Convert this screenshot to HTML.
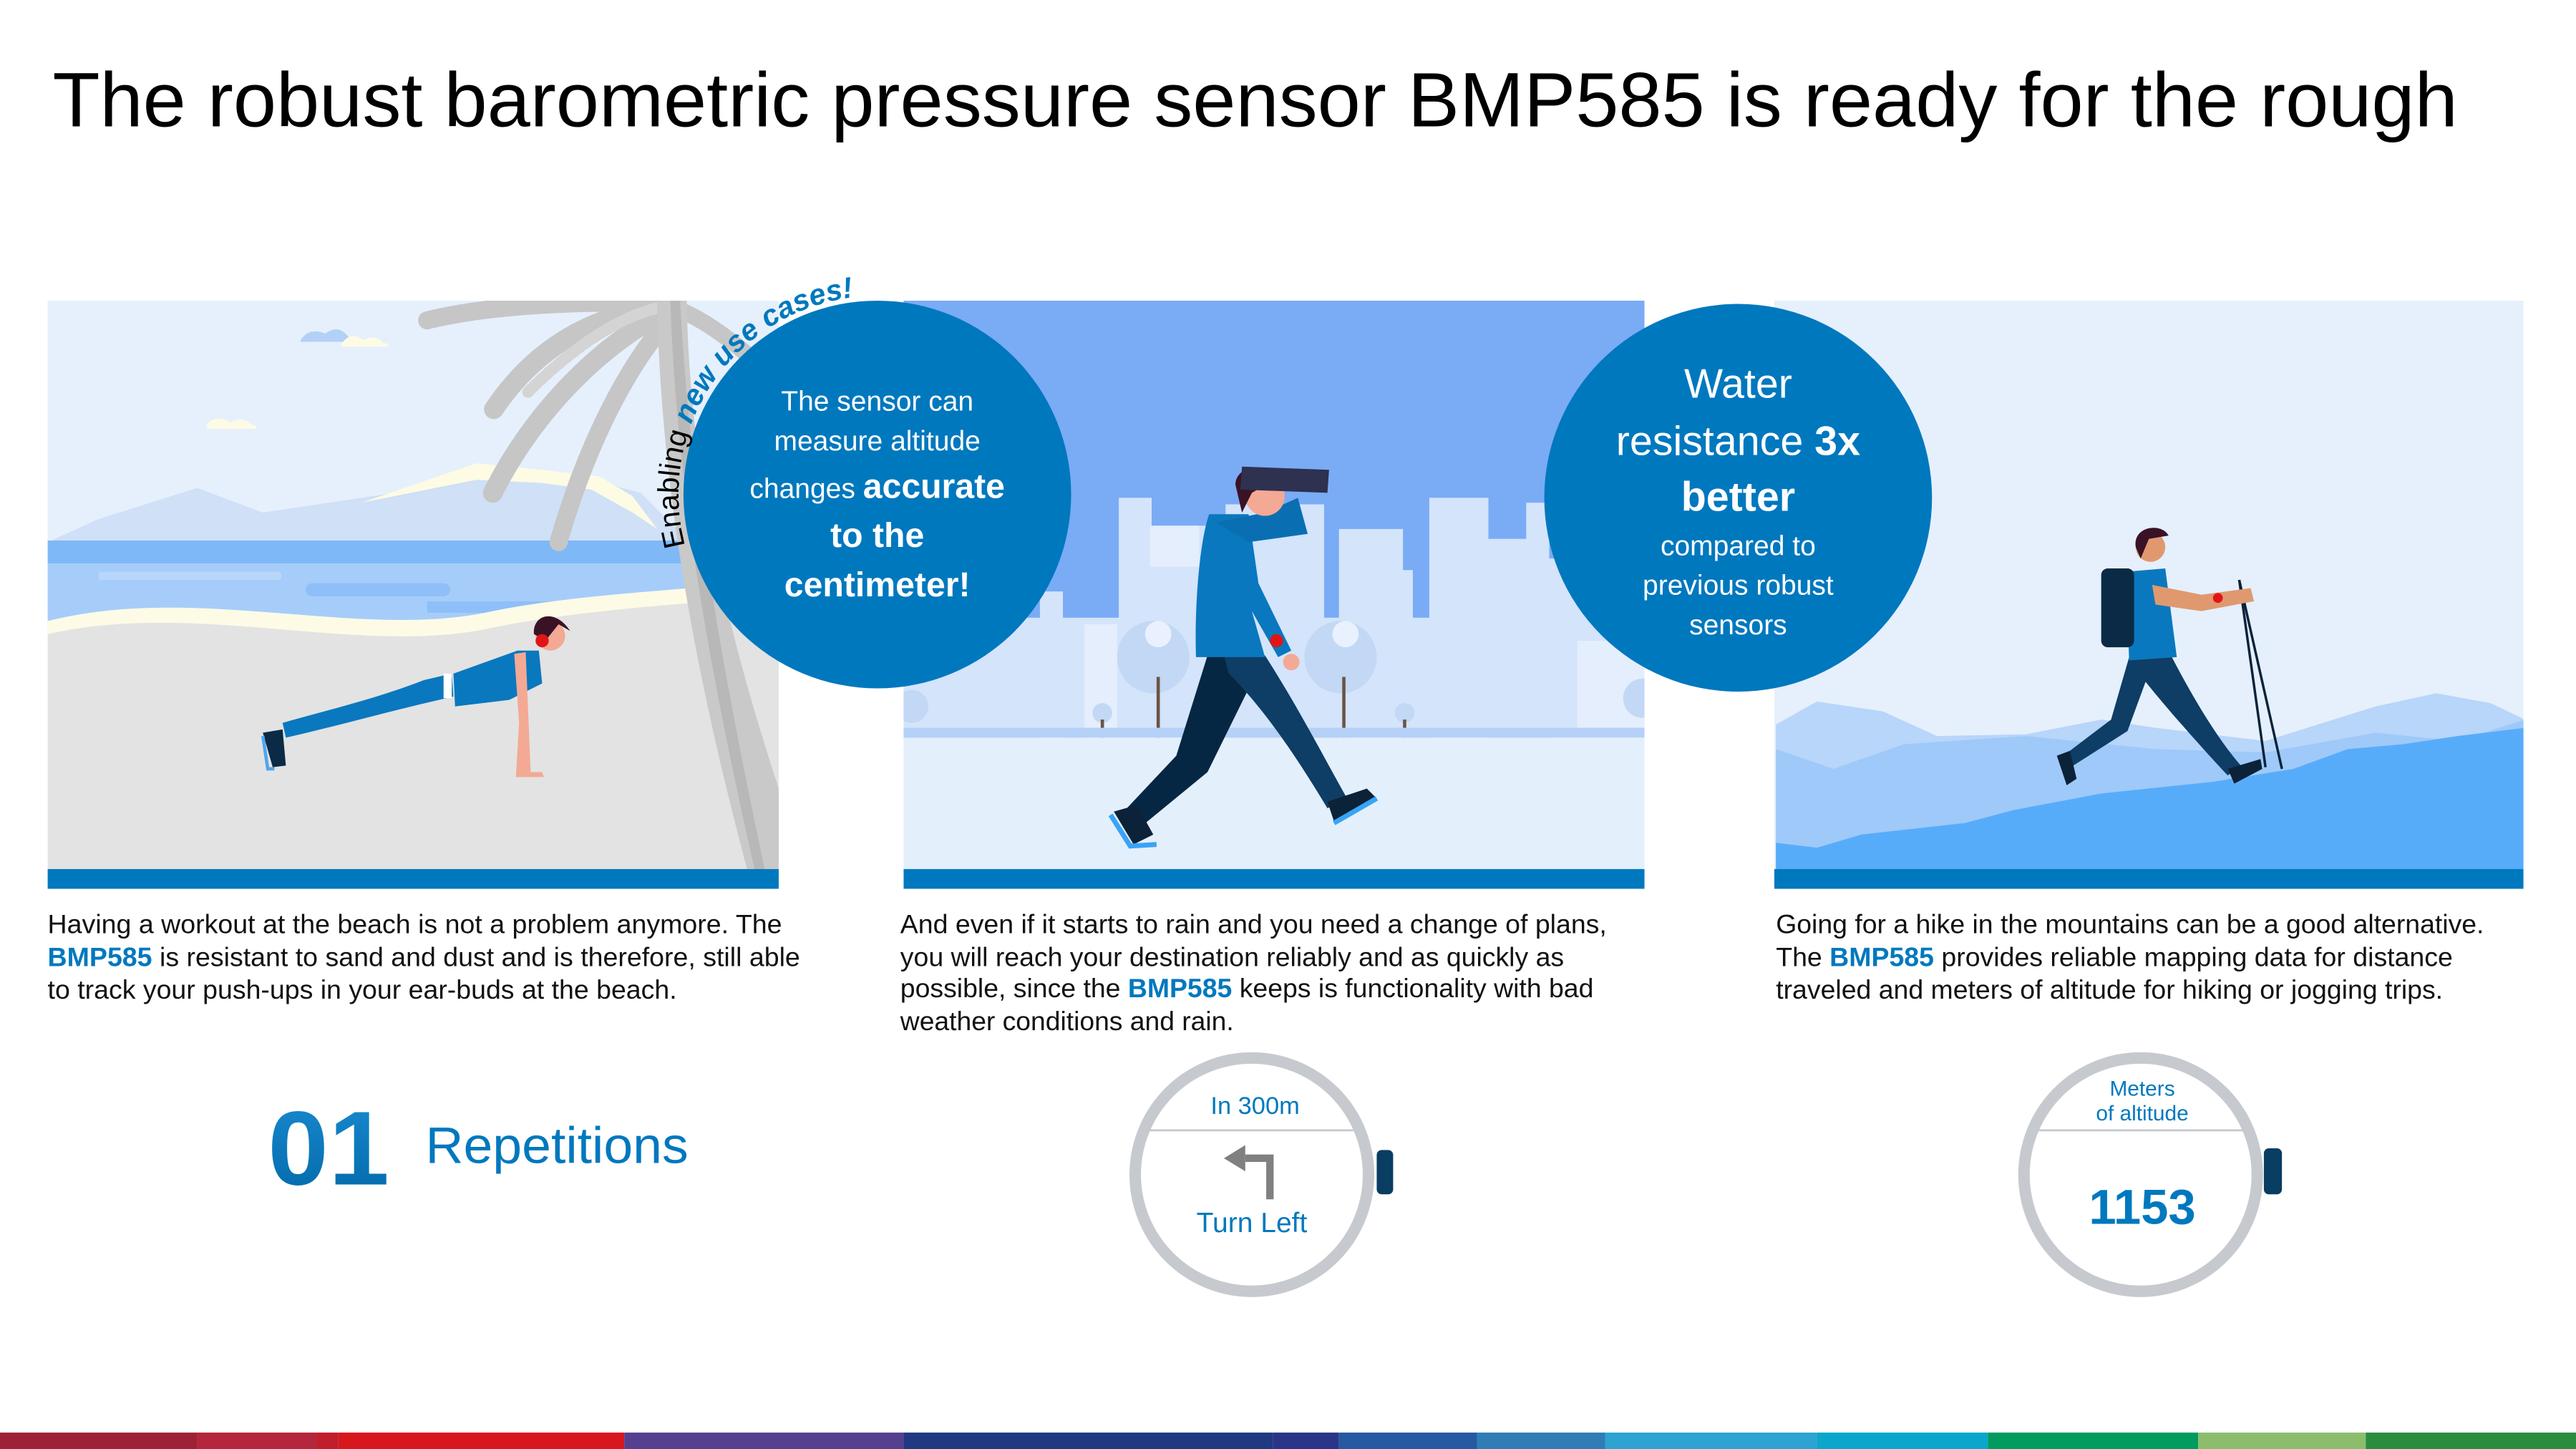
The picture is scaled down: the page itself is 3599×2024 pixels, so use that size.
<!DOCTYPE html>
<html><head><meta charset="utf-8"><style>
html,body{margin:0;padding:0;background:#fff;}
svg{display:block;}
text{font-family:"Liberation Sans",sans-serif;}
</style></head><body>
<svg width="3599" height="2024" viewBox="0 0 1568 882" preserveAspectRatio="none" xmlns="http://www.w3.org/2000/svg">
<defs>
<clipPath id="c1"><rect x="29" y="183" width="445" height="358"/></clipPath>
<clipPath id="c2"><rect x="550" y="183" width="451" height="358"/></clipPath>
<clipPath id="c3"><rect x="1080" y="183" width="456" height="358"/></clipPath>
<linearGradient id="g01" x1="0" y1="0" x2="0" y2="1"><stop offset="0" stop-color="#1a8ad0"/><stop offset="1" stop-color="#0068a8"/></linearGradient>
</defs>
<rect width="1568" height="882" fill="#fff"/>
<text x="32" y="77" font-size="47" fill="#000" textLength="1464" lengthAdjust="spacingAndGlyphs">The robust barometric pressure sensor BMP585 is ready for the rough</text>

<!-- Panel 1 beach -->
<g clip-path="url(#c1)">
<rect x="29" y="183" width="445" height="358" fill="#e6f0fc"/>
<path d="M183,207 q5,-8 15,-4 q8,-6 14,2 q6,0 6,3 h-35z" fill="#b3d1f7"/>
<path d="M208,209 q6,-8 13,-2 q8,-4 12,2 h3 v2 h-28z" fill="#fdfbe3"/>
<path d="M126,258 q6,-6 14,-1 q8,-4 14,2 h2 v2 h-30z" fill="#fdfbe3"/>
<path d="M29,330 L60,316 L120,297 L160,312 L200,306 L240,300 L290,284 L330,288 L360,292 L390,300 L420,330 Z" fill="#cfe0f7"/>
<path d="M220,306 L290,282 L330,286 L365,290 L385,302 L400,322 L385,312 L360,298 L330,294 L290,292 Z" fill="#fdfbe3"/>
<rect x="29" y="329" width="445" height="14" fill="#7fb8f7"/>
<rect x="29" y="343" width="445" height="40" fill="#a6cdf9"/>
<path d="M190,355 h80 a4,4 0 0 1 0,8 h-80 a4,4 0 0 1 0,-8z M260,366 h90 a4,4 0 0 1 0,7 h-90z" fill="#8fbff8"/>
<path d="M60,348 h110 a3,3 0 0 1 0,5 h-110z" fill="#b7d6fa"/>
<path d="M29,378 C120,355 220,390 300,372 C360,360 420,360 474,352 L474,541 L29,541 Z" fill="#fdfbe6"/>
<path d="M29,386 C120,365 220,400 300,382 C360,370 420,368 474,362 L474,541 L29,541 Z" fill="#e3e3e3"/>
<!-- palm leaves -->
<g fill="none" stroke="#c6c6c6" stroke-linecap="round">
<path d="M408,186 C370,190 330,205 300,250" stroke-width="12" stroke-dasharray="3 1.5"/>
<path d="M410,188 C380,200 330,240 300,300" stroke-width="12" stroke-dasharray="3 1.5"/>
<path d="M412,190 C390,210 360,260 340,330" stroke-width="11" stroke-dasharray="3 1.5"/>
<path d="M405,185 C360,183 300,185 260,195" stroke-width="11" stroke-dasharray="3 1.5"/>
<path d="M412,188 C430,195 450,210 470,230" stroke-width="10" stroke-dasharray="3 1.5"/>
<path d="M408,186 C380,190 350,210 320,240" stroke="#d4d4d4" stroke-width="7" stroke-dasharray="3 2"/>
</g>
<path d="M400,183 C402,300 425,420 458,541 L474,541 L474,480 C448,400 420,300 418,183 Z" fill="#c9c9c9"/>
<path d="M408,183 C412,300 432,410 462,541 L468,541 C440,410 420,300 414,183Z" fill="#b8b8b8"/>
<!-- pushup person -->
<path d="M160,446 L172,444 L174,466 L166,467 Z" fill="#0b2a45"/>
<path d="M160,448 L163,468 L167,468" stroke="#4fa6f0" stroke-width="2" fill="none"/>
<path d="M172,440 C200,432 230,425 258,414 L275,410 L276,424 C240,432 205,442 174,449 Z" fill="#0a78be"/>
<rect x="270" y="410" width="5" height="15" fill="#fff"/>
<path d="M276,410 L315,396 L328,396 L330,416 L310,426 L277,430 Z" fill="#0a78be"/>
<path d="M313,398 L320,397 L323,470 L330,470 L331,473 L314,473 L316,440 Z" fill="#f3a994"/>
<circle cx="335" cy="387" r="9" fill="#f3a994"/>
<path d="M325,386 C324,374 338,370 347,384 L340,380 L332,390 Z" fill="#3a1226"/>
<circle cx="330" cy="390" r="4" fill="#e01616"/>
<rect x="29" y="529" width="445" height="12" fill="#0078be"/>
</g>

<!-- Panel 2 city -->
<g clip-path="url(#c2)">
<rect x="550" y="183" width="451" height="358" fill="#7aabf5"/>
<g fill="#d3e4fb">
<rect x="633" y="360" width="14" height="90"/>
<rect x="681" y="303" width="20" height="150"/>
<rect x="700" y="320" width="46" height="130"/>
<rect x="692" y="347" width="36" height="100"/>
<rect x="746" y="307" width="60" height="140"/>
<rect x="815" y="322" width="39" height="130"/>
<rect x="824" y="347" width="36" height="100"/>
<rect x="870" y="303" width="36" height="150"/>
<rect x="906" y="328" width="37" height="120"/>
<rect x="929" y="306" width="14" height="140"/>
<rect x="943" y="340" width="58" height="110"/>
<rect x="550" y="376" width="451" height="70"/>
</g>
<g fill="#e4eefc"><rect x="700" y="320" width="30" height="25"/><rect x="660" y="380" width="20" height="70"/><rect x="960" y="390" width="41" height="60"/></g>
<g fill="#c2d8f5">
<circle cx="702" cy="400" r="22"/><circle cx="816" cy="400" r="22"/><circle cx="671" cy="434" r="6"/><circle cx="855" cy="434" r="6"/><circle cx="1000" cy="425" r="12"/><circle cx="555" cy="430" r="10"/>
</g>
<g fill="#e8f1fd"><circle cx="705" cy="386" r="8"/><circle cx="819" cy="386" r="8"/></g>
<g stroke="#6b5444" stroke-width="2"><line x1="705" y1="412" x2="705" y2="450"/><line x1="818" y1="412" x2="818" y2="450"/><line x1="671" y1="438" x2="671" y2="450"/><line x1="855" y1="438" x2="855" y2="450"/></g>
<rect x="550" y="443" width="451" height="6" fill="#b5d1f7"/>
<rect x="550" y="449" width="451" height="92" fill="#e4effc"/>
<!-- walker -->
<path d="M735,399 L770,399 L735,470 L696,502 L684,494 L716,460 Z" fill="#062743"/>
<path d="M745,399 L770,399 C790,430 808,465 820,486 L808,492 C790,462 770,432 748,410 Z" fill="#0e3d66"/>
<path d="M678,494 L692,490 L702,508 L690,514 Z" fill="#0b2239"/>
<path d="M676,496 L688,515 L704,514" stroke="#38a4f5" stroke-width="3" fill="none"/>
<path d="M808,488 L832,480 L838,486 L812,500 Z" fill="#0b2239"/>
<path d="M812,501 L838,486" stroke="#38a4f5" stroke-width="3"/>
<path d="M736,313 L760,313 L766,355 L786,396 L778,400 L762,372 L770,400 L728,400 C727,370 730,330 736,313 Z" fill="#0a78be"/>
<path d="M740,318 L770,312 L790,303 L796,325 L760,330 Z" fill="#0a6fb2"/>
<circle cx="786" cy="403" r="5" fill="#f3a994"/>
<circle cx="777" cy="390" r="4" fill="#e01616"/>
<circle cx="770" cy="302" r="12" fill="#f3a994"/>
<path d="M752,295 C752,284 770,280 776,292 L762,300 L756,312 Z" fill="#3a1226"/>
<path d="M756,284 L809,286 L808,300 L755,298 Z" fill="#2e3150"/>
<rect x="550" y="529" width="451" height="12" fill="#0078be"/>
</g>

<!-- Panel 3 mountains -->
<g clip-path="url(#c3)">
<rect x="1080" y="183" width="456" height="358" fill="#e5f0fc"/>
<path d="M1081,441 L1106,427 L1146,433 L1179,448 L1233,447 L1279,438 L1312,443 L1379,451 L1446,430 L1483,422 L1516,428 L1537,438 L1537,541 L1081,541Z" fill="#b8d5fa"/>
<path d="M1081,456 L1116,468 L1159,453 L1233,448 L1312,456 L1379,458 L1446,446 L1496,451 L1537,438 L1537,541 L1081,541Z" fill="#9ec9f9"/>
<path d="M1081,513 L1106,516 L1133,508 L1196,501 L1226,493 L1279,483 L1346,476 L1396,468 L1429,456 L1463,453 L1496,448 L1537,443 L1537,541 L1081,541Z" fill="#57acfa"/>
<!-- hiker -->
<line x1="1363" y1="353" x2="1379" y2="467" stroke="#0b2239" stroke-width="1.5"/>
<line x1="1363" y1="353" x2="1389" y2="468" stroke="#0b2239" stroke-width="1.5"/>
<path d="M1296,400 L1322,400 C1335,425 1350,450 1364,466 L1356,472 C1340,455 1318,430 1306,415 L1295,445 L1262,466 L1256,460 L1285,438 Z" fill="#0e3d66"/>
<path d="M1252,460 L1260,457 L1264,474 L1258,478 Z" fill="#0b2239"/>
<path d="M1356,468 L1376,462 L1377,468 L1360,477 Z" fill="#0b2239"/>
<path d="M1294,348 L1318,346 L1325,400 L1296,402 Z" fill="#0a78be"/>
<path d="M1310,356 L1340,362 L1370,358 L1372,366 L1340,372 L1312,368 Z" fill="#e0996f"/>
<circle cx="1350" cy="364" r="3" fill="#e01616"/>
<rect x="1279" y="346" width="20" height="48" rx="4" fill="#0b2a45"/>
<circle cx="1309" cy="333" r="9" fill="#e0996f"/>
<path d="M1300,333 C1298,320 1316,318 1320,326 L1308,328 L1303,340 Z" fill="#3a1226"/>
<rect x="1080" y="529" width="456" height="12" fill="#0078be"/>
</g>

<!-- circles -->
<circle cx="534" cy="301" r="118" fill="#0078be"/>
<circle cx="1058" cy="303" r="118" fill="#0078be"/>
<path id="arc" d="M417.1,332.3 A121,121 0 0 1 523.5,180.5" fill="none"/>
<text font-size="18"><textPath href="#arc"><tspan fill="#000">Enabling </tspan><tspan fill="#0078be" font-weight="bold" font-style="italic">new use cases!</tspan></textPath></text>

<g fill="#fff" text-anchor="middle">
<text x="534" y="250" font-size="17">The sensor can</text>
<text x="534" y="274" font-size="17">measure altitude</text>
<text x="534" y="303" font-size="17">changes <tspan font-size="21" font-weight="bold">accurate</tspan></text>
<text x="534" y="333" font-size="21" font-weight="bold">to the</text>
<text x="534" y="363" font-size="21" font-weight="bold">centimeter!</text>
<text x="1058" y="242" font-size="25">Water</text>
<text x="1058" y="277" font-size="25">resistance <tspan font-weight="bold">3x</tspan></text>
<text x="1058" y="311" font-size="25" font-weight="bold">better</text>
<text x="1058" y="338" font-size="17">compared to</text>
<text x="1058" y="362" font-size="17">previous robust</text>
<text x="1058" y="386" font-size="17">sensors</text>
</g>

<!-- paragraphs -->
<g font-size="16.3" fill="#111">
<text x="29" y="568" textLength="447" lengthAdjust="spacingAndGlyphs">Having a workout at the beach is not a problem anymore. The</text>
<text x="29" y="588" textLength="458" lengthAdjust="spacingAndGlyphs"><tspan fill="#0078be" font-weight="bold">BMP585</tspan> is resistant to sand and dust and is therefore, still able</text>
<text x="29" y="608" textLength="383" lengthAdjust="spacingAndGlyphs">to track your push-ups in your ear-buds at the beach.</text>
<text x="548" y="568" textLength="430" lengthAdjust="spacingAndGlyphs">And even if it starts to rain and you need a change of plans,</text>
<text x="548" y="588" textLength="404" lengthAdjust="spacingAndGlyphs">you will reach your destination reliably and as quickly as</text>
<text x="548" y="607" textLength="422" lengthAdjust="spacingAndGlyphs">possible, since the <tspan fill="#0078be" font-weight="bold">BMP585</tspan> keeps is functionality with bad</text>
<text x="548" y="627" textLength="203" lengthAdjust="spacingAndGlyphs">weather conditions and rain.</text>
<text x="1081" y="568" textLength="431" lengthAdjust="spacingAndGlyphs">Going for a hike in the mountains can be a good alternative.</text>
<text x="1081" y="588" textLength="412" lengthAdjust="spacingAndGlyphs">The <tspan fill="#0078be" font-weight="bold">BMP585</tspan> provides reliable mapping data for distance</text>
<text x="1081" y="608" textLength="406" lengthAdjust="spacingAndGlyphs">traveled and meters of altitude for hiking or jogging trips.</text>
</g>

<!-- 01 Repetitions -->
<text x="163" y="721" font-size="64" font-weight="bold" fill="url(#g01)" textLength="74" lengthAdjust="spacingAndGlyphs">01</text>
<text x="259" y="708" font-size="31" fill="#0078be" textLength="160" lengthAdjust="spacingAndGlyphs">Repetitions</text>

<!-- watch 1 -->
<circle cx="762" cy="715" r="71" fill="#fff" stroke="#c6cacf" stroke-width="7"/>
<line x1="694" y1="688" x2="830" y2="688" stroke="#c6cacf" stroke-width="1.2"/>
<rect x="838" y="700" width="10" height="27" rx="3" fill="#0a3d62"/>
<text x="764" y="678" font-size="15" fill="#0078be" text-anchor="middle">In 300m</text>
<path d="M773,730 V705 H758" fill="none" stroke="#808080" stroke-width="4.5"/>
<path d="M745,705 L758,697 L758,713 Z" fill="#808080"/>
<text x="762" y="750" font-size="17" fill="#0078be" text-anchor="middle">Turn Left</text>

<!-- watch 2 -->
<circle cx="1303" cy="715" r="71" fill="#fff" stroke="#c6cacf" stroke-width="7"/>
<line x1="1235" y1="688" x2="1371" y2="688" stroke="#c6cacf" stroke-width="1.2"/>
<rect x="1378" y="699" width="11" height="28" rx="3" fill="#0a3d62"/>
<text x="1304" y="667" font-size="13" fill="#0078be" text-anchor="middle">Meters</text>
<text x="1304" y="682" font-size="13" fill="#0078be" text-anchor="middle">of altitude</text>
<text x="1304" y="745" font-size="30" font-weight="bold" fill="#0078be" text-anchor="middle">1153</text>

<!-- bottom bar -->
<g>
<rect x="0" y="872" width="120" height="10" fill="#9e2236"/>
<rect x="120" y="872" width="73" height="10" fill="#b3263b"/>
<rect x="193" y="872" width="13" height="10" fill="#bf1e2a"/>
<rect x="206" y="872" width="174" height="10" fill="#d7171e"/>
<rect x="380" y="872" width="170" height="10" fill="#55408f"/>
<rect x="550" y="872" width="225" height="10" fill="#1f3a80"/>
<rect x="775" y="872" width="40" height="10" fill="#2b3587"/>
<rect x="815" y="872" width="84" height="10" fill="#2559a1"/>
<rect x="899" y="872" width="78" height="10" fill="#2f7db4"/>
<rect x="977" y="872" width="129" height="10" fill="#2ca3d0"/>
<rect x="1106" y="872" width="104" height="10" fill="#0aa6cc"/>
<rect x="1210" y="872" width="128" height="10" fill="#009b5f"/>
<rect x="1338" y="872" width="102" height="10" fill="#8cbd6d"/>
<rect x="1440" y="872" width="128" height="10" fill="#2a8c3f"/>
</g>
</svg>
</body></html>
